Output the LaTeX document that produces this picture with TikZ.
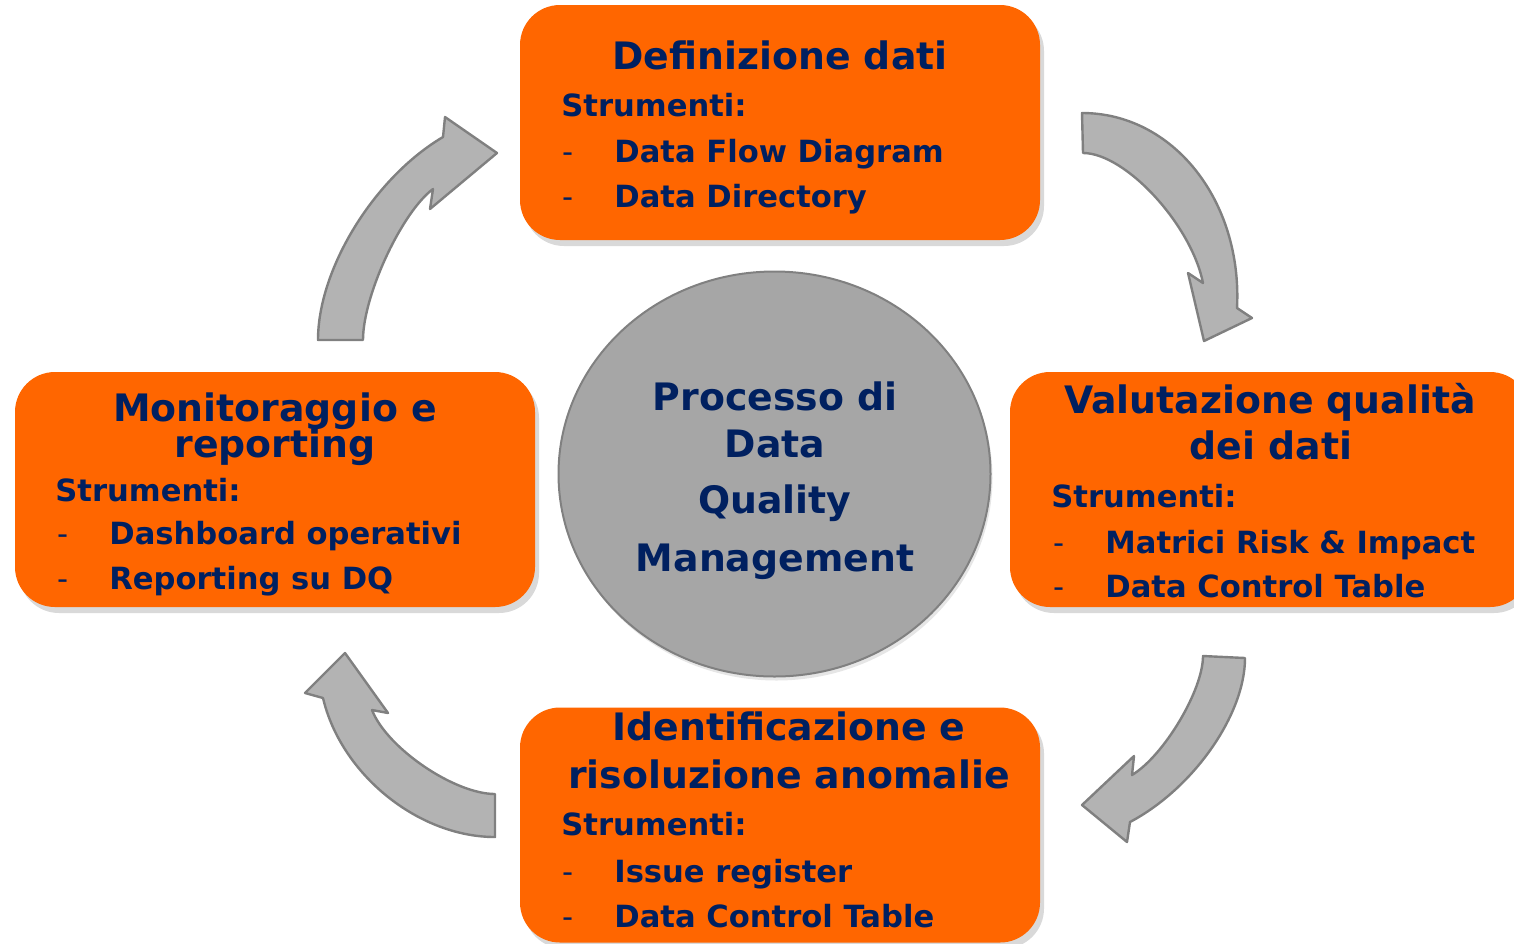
\documentclass[tikz,border=0pt]{standalone}
\usepackage{fontspec}
\setmainfont{DejaVu Sans}
\usetikzlibrary{positioning,shapes.geometric,shadows}
\definecolor{dqorange}{RGB}{255,102,0}
\definecolor{dqnavy}{RGB}{0,32,96}
\definecolor{dqgrey}{RGB}{166,166,166}
\definecolor{dqarrow}{RGB}{179,179,179}
\definecolor{dqline}{RGB}{128,128,128}
\newcommand{\titlesize}{\fontsize{18.9}{23.5}\selectfont\bfseries}
\newcommand{\bodysize}{\fontsize{15.3}{23}\selectfont\bfseries}
\newcommand{\itemdash}{\makebox[26pt][l]{\mdseries -}}

\begin{document}
\begin{tikzpicture}[x=0.5pt,y=0.5pt,
    phase/.style={fill=dqorange, rounded corners=20pt, minimum width=260pt, minimum height=117.5pt, inner sep=0pt,
      drop shadow={opacity=0.3, shadow xshift=2pt, shadow yshift=-3pt}},
    head/.style={text=dqnavy, font=\titlesize, anchor=base, inner sep=0pt},
    tool/.style={text=dqnavy, font=\bodysize, anchor=base west, inner sep=0pt},
    curved/.style={fill=dqarrow, draw=dqline, line width=1.2pt, line join=round}]
  \useasboundingbox (0,0) rectangle (1514,-943);

  \draw[curved] (1082,-113) .. controls (1173,-113) and (1242.5,-200.75) .. (1237,-308) -- (1252,-318) -- (1204,-341)
    -- (1188,-273) -- (1203,-283) .. controls (1191.3,-224.5) and (1125.3,-153) .. (1083,-153) -- cycle;
  \draw[curved] (1245,-658) .. controls (1245,-714.7) and (1193.25,-788.5) .. (1130,-822) -- (1127,-842) -- (1082,-805)
    -- (1134,-756) -- (1132,-775) .. controls (1164,-755.6) and (1203,-690.2) .. (1203,-656) -- cycle;
  \draw[curved] (495,-837) .. controls (418.5,-837) and (341,-774.5) .. (323,-698) -- (305,-693) -- (345,-653)
    -- (388,-713) -- (372,-710) .. controls (386.6,-747.8) and (454.3,-794) .. (495,-794) -- cycle;
  \draw[curved] (318,-340) .. controls (318,-269) and (374,-177.7) .. (443,-137) -- (445,-117) -- (497,-153)
    -- (430,-209) -- (433,-189) .. controls (401.5,-212.6) and (363,-295.7) .. (363,-340) -- cycle;

  \node[ellipse, fill=dqgrey, draw=dqline, line width=1pt, minimum width=216pt, minimum height=202.5pt, inner sep=0pt,
    drop shadow={opacity=0.2, shadow xshift=1pt, shadow yshift=-2pt}] (dqm) at (774.5,-474) {};
  \node[head] (dqm1) at (775,-410) {Processo di};
  \node[head] (dqm2) at (775,-457) {Data};
  \node[head] (dqm3) at (775,-513) {Quality};
  \node[head] (dqm4) at (775,-571) {Management};

  \node[phase] (def) at (780,-122.5) {};
  \node[head] (defhead) at (780,-69) {Definizione dati};
  \node[tool] (defstr) at (561,-116) {Strumenti:};
  \node[tool] (dfd) at (562,-162) {\itemdash Data Flow Diagram};
  \node[tool] (ddir) at (562,-207) {\itemdash Data Directory};

  \node[phase] (val) at (1270,-489.5) {};
  \node[head] (valhead) at (1270,-413) {Valutazione qualità};
  \node[head] (valhead2) at (1271,-459) {dei dati};
  \node[tool] (valstr) at (1051,-507) {Strumenti:};
  \node[tool] (matrix) at (1053,-553) {\itemdash Matrici Risk \& Impact};
  \node[tool] (dct) at (1053,-597) {\itemdash Data Control Table};

  \node[phase] (iss) at (780,-825) {};
  \node[head] (isshead) at (789,-740) {Identificazione e};
  \node[head] (isshead2) at (789,-788) {risoluzione anomalie};
  \node[tool] (issstr) at (561,-835) {Strumenti:};
  \node[tool] (register) at (562,-882) {\itemdash Issue register};
  \node[tool] (dct2) at (562,-927) {\itemdash Data Control Table};

  \node[phase] (mon) at (275,-489.5) {};
  \node[head] (monhead) at (275,-421) {Monitoraggio e};
  \node[head] (monhead2) at (275,-457) {reporting};
  \node[tool] (monstr) at (55,-501) {Strumenti:};
  \node[tool] (dash) at (57,-544) {\itemdash Dashboard operativi};
  \node[tool] (dqrep) at (57,-589) {\itemdash Reporting su DQ};
\end{tikzpicture}
\end{document}
